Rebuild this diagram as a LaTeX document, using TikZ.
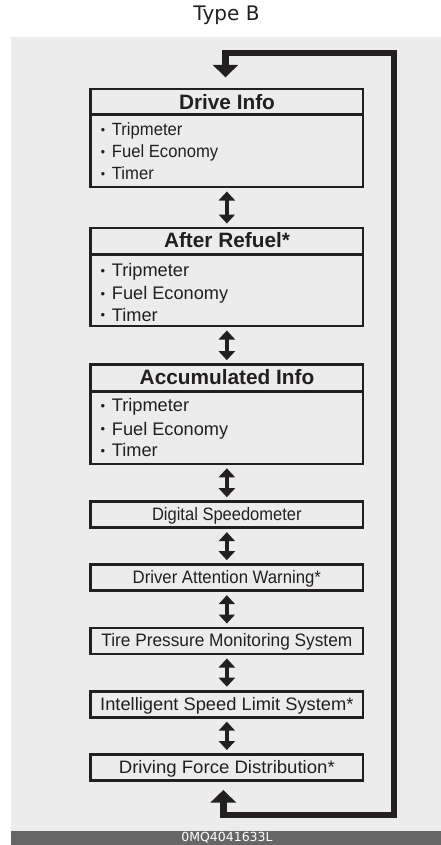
\documentclass[tikz,border=0pt]{standalone}
\usepackage{fontspec}
\setmainfont{Liberation Sans}
\newfontfamily\djv{DejaVu Sans}
\usetikzlibrary{arrows.meta}
\definecolor{ink}{HTML}{231F20}
\definecolor{panel}{HTML}{ECECEC}
\definecolor{barc}{HTML}{666666}
\newcommand\fs[1]{\fontsize{#1}{#1}\selectfont}
\newcommand\cond[1]{\addfontfeature{FakeStretch=#1}}
\newcommand\bul{\makebox[9.4pt][c]{\raisebox{1.2pt}{\fs{13}•}}\hspace{4.3pt}}
\begin{document}
\begin{tikzpicture}[x=1pt,y=-1pt,
 box/.style={draw=ink, line width=2.6pt, inner sep=0pt, outer sep=0pt, minimum width=272.3pt},
 onebox/.style={box, minimum height=26pt, text=ink, text height=12.6pt, text depth=1pt, align=center},
 sepline/.style={draw=ink, line width=2.6pt},
 ttl/.style={anchor=base, inner sep=0pt, text=ink, font=\bfseries\fs{20.8}},
 itm/.style={anchor=base west, inner sep=0pt, text=ink},
 dbl/.style={draw=ink, line width=3.6pt, {Triangle[width=16pt,length=9pt]}-{Triangle[width=16pt,length=9pt]}, shorten <=4.5pt, shorten >=4.5pt},
 loopline/.style={draw=ink, line width=6.8pt, line join=miter, {Triangle[width=25pt,length=12.5pt]}-{Triangle[width=25pt,length=12.5pt]}}]
\useasboundingbox (0,0) rectangle (441,845);
\fill[panel] (11,37) rectangle (441,831);
\fill[barc] (11,831) rectangle (441,845);
\node[anchor=base, inner sep=0pt, text=white, font=\djv\fs{12.5}] (code) at (227,841.5) {0MQ4041633L};
\node[anchor=base, inner sep=0pt, text=ink, font=\djv\fs{20}] (type) at (226.5,21) {Type B};

% Drive Info
\node[box, minimum height=98pt] (di) at (226.85,138) {};
\draw[sepline] (90.7,114.5) -- (363,114.5);
\node[ttl] (dit) at (227,110) {Drive Info};
\node[itm, font=\fs{17.7}\cond{0.94}] (di1) at (98,136) {\bul Tripmeter};
\node[itm, font=\fs{17.7}\cond{0.94}] (di2) at (98,158) {\bul Fuel Economy};
\node[itm, font=\fs{17.7}\cond{0.94}] (di3) at (98,179.5) {\bul Timer};

% After Refuel
\node[box, minimum height=98pt] (ar) at (226.85,277) {};
\draw[sepline] (90.7,254.5) -- (363,254.5);
\node[ttl] (art) at (227,247.5) {After Refuel*};
\node[itm, font=\fs{18.2}] (ar1) at (98,276.5) {\bul Tripmeter};
\node[itm, font=\fs{18.2}] (ar2) at (98,299.5) {\bul Fuel Economy};
\node[itm, font=\fs{18.2}] (ar3) at (98,321) {\bul Timer};

% Accumulated Info
\node[box, minimum height=99.1pt] (ai) at (226.85,414.25) {};
\draw[sepline] (90.7,391.7) -- (363,391.7);
\node[ttl] (ait) at (227,384) {Accumulated Info};
\node[itm, font=\fs{18.2}] (ai1) at (98,411.5) {\bul Tripmeter};
\node[itm, font=\fs{18.2}] (ai2) at (98,435) {\bul Fuel Economy};
\node[itm, font=\fs{18.2}] (ai3) at (98,456.5) {\bul Timer};

% single boxes
\node[onebox, font=\fs{18}\cond{0.917}] (ds) at (226.85,514.7) {Digital Speedometer};
\node[onebox, font=\fs{18}\cond{0.93}] (daw) at (226.85,577.7) {Driver Attention Warning*};
\node[onebox, font=\fs{18}\cond{0.96}] (tpms) at (226.85,641) {Tire Pressure Monitoring System};
\node[onebox, font=\fs{18}\cond{1.017}] (isls) at (226.85,704.2) {Intelligent Speed Limit System*};
\node[onebox, font=\fs{18}\cond{1.033}] (dfd) at (226.85,767.5) {Driving Force Distribution*};

% double arrows
\draw[dbl] (di.south) -- (ar.north);
\draw[dbl] (ar.south) -- (ai.north);
\draw[dbl] (ai.south) -- (ds.north);
\draw[dbl] (ds.south) -- (daw.north);
\draw[dbl] (daw.south) -- (tpms.north);
\draw[dbl] (tpms.south) -- (isls.north);
\draw[dbl] (isls.south) -- (dfd.north);

% loop
\coordinate (bt) at (223.3,790);
\coordinate (bc) at (223.3,815);
\coordinate (rc1) at (394,815);
\coordinate (rc2) at (394,53);
\coordinate (tc) at (225.5,53);
\coordinate (tt) at (225.5,77.3);
\draw[loopline] (bt) -- (bc) -- (rc1) -- (rc2) -- (tc) -- (tt);
\end{tikzpicture}
\end{document}
